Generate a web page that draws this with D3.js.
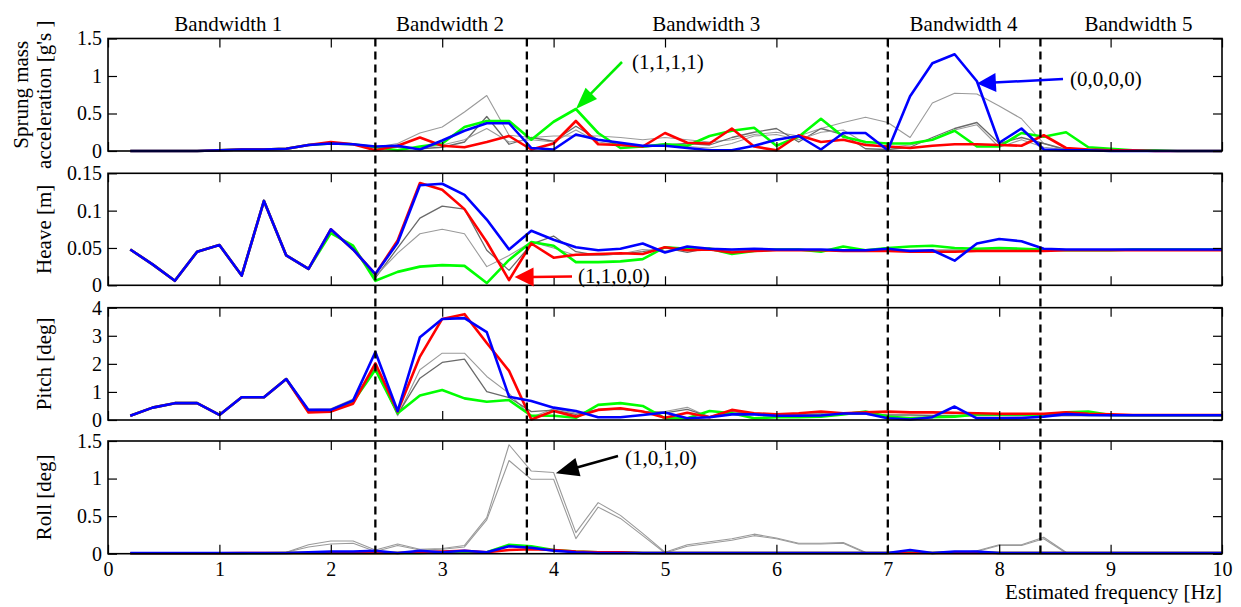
<!DOCTYPE html>
<html><head><meta charset="utf-8">
<script src="https://cdn.jsdelivr.net/npm/d3@7"></script>
<style>
body{margin:0;background:#fff}
svg{display:block}
text{font-family:"Liberation Serif","Times New Roman",serif;fill:#000}
</style>
</head><body>
<svg id="c" width="1241" height="607"></svg>
<script>
// ---------- DATA ----------
const freq = [0.2,0.4,0.6,0.8,1.0,1.2,1.4,1.6,1.8,2.0,2.2,2.4,2.6,2.8,3.0,3.2,3.4,3.6,3.8,4.0,4.2,4.4,4.6,4.8,5.0,5.2,5.4,5.6,5.8,6.0,6.2,6.4,6.6,6.8,7.0,7.2,7.4,7.6,7.8,8.0,8.2,8.4,8.6,8.8,9.0,9.2,9.4,9.6,9.8,10.0];

const xTicks = [0,1,2,3,4,5,6,7,8,9,10];
const xTickLabels = ["0","1","2","3","4","5","6","7","8","9","10"];

const bandEdges = [2.4, 3.76, 7.0, 8.37];
const bandLabels = ["Bandwidth 1","Bandwidth 2","Bandwidth 3","Bandwidth 4","Bandwidth 5"];
const bandLabelPos = [1.08, 3.07, 5.37, 7.68, 9.25];

// Panel 1: sprung mass acceleration
const accTicks = [0,0.5,1,1.5];
const accTickLabels = ["0","0.5","1","1.5"];
const accBlue  = [0,0,0,0,0.01,0.02,0.02,0.03,0.08,0.1, 0.09,0.06,0.07,0.02,0.14,0.27,0.37,0.37,0.04,0.02, 0.22,0.15,0.11,0.07,0.07,0.04,0.01,0.01,0.07,0.15, 0.2,0.02,0.24,0.24,0.01,0.73,1.17,1.29,0.93,0.11, 0.3,0.02,0.01,0.01,0,0,0,0,0,0];
const accRed   = [0,0,0,0,0.01,0.02,0.02,0.03,0.08,0.12, 0.09,0.01,0.07,0.18,0.07,0.05,0.12,0.2,0.02,0.1, 0.4,0.09,0.08,0.06,0.24,0.11,0.1,0.3,0.06,0.01, 0.21,0.12,0.15,0.08,0.06,0.04,0.07,0.09,0.09,0.08, 0.07,0.21,0.04,0.02,0.01,0.01,0,0,0,0];
const accGreen = [0,0,0,0,0.01,0.02,0.02,0.03,0.08,0.1, 0.09,0.05,0.01,0.06,0.1,0.32,0.4,0.4,0.15,0.39, 0.56,0.24,0.04,0.06,0.09,0.07,0.2,0.27,0.31,0.07, 0.19,0.43,0.19,0.12,0.1,0.1,0.15,0.27,0.06,0.06, 0.24,0.19,0.25,0.05,0.03,0.01,0.01,0,0,0];
const accGrayA = [0,0,0,0,0.01,0.02,0.02,0.03,0.08,0.1, 0.09,0.05,0.1,0.24,0.32,0.52,0.74,0.21,0.18,0.2, 0.2,0.2,0.18,0.15,0.18,0.15,0.12,0.15,0.22,0.25, 0.2,0.3,0.38,0.45,0.38,0.18,0.64,0.77,0.76,0.6, 0.43,0.1,0.01,0.01,0,0,0,0,0,0];
const accGrayB = [0,0,0,0,0.01,0.02,0.02,0.03,0.08,0.1, 0.09,0.05,0.05,0.03,0.05,0.12,0.46,0.09,0.18,0.13, 0.33,0.15,0.1,0.05,0.08,0.1,0.08,0.18,0.25,0.3, 0.12,0.3,0.22,0.03,0.02,0.05,0.18,0.3,0.38,0.1, 0.18,0.1,0.02,0.01,0,0,0,0,0,0];
const accGrayC = [0,0,0,0,0.01,0.02,0.02,0.03,0.08,0.1, 0.09,0.05,0.06,0.04,0.08,0.15,0.3,0.12,0.15,0.12, 0.28,0.12,0.08,0.06,0.1,0.06,0.04,0.1,0.2,0.22, 0.15,0.25,0.28,0.1,0.05,0.08,0.15,0.28,0.35,0.05, 0.15,0.05,0.02,0.01,0,0,0,0,0,0];

// Panel 2: heave
const heaveTicks = [0,0.05,0.1,0.15];
const heaveTickLabels = ["0","0.05","0.1","0.15"];
const heaveBlue  = [0.048,0.028,0.006,0.045,0.054,0.013,0.113,0.040,0.022,0.075, 0.048,0.015,0.057,0.134,0.136,0.121,0.088,0.048,0.073,0.061, 0.051,0.047,0.049,0.056,0.044,0.052,0.049,0.048,0.049,0.048, 0.048,0.048,0.047,0.047,0.049,0.046,0.047,0.033,0.056,0.062, 0.059,0.049,0.048,0.048,0.048,0.048,0.048,0.048,0.048,0.048];
const heaveRed   = [0.048,0.028,0.006,0.045,0.054,0.013,0.113,0.040,0.022,0.075, 0.048,0.015,0.060,0.137,0.128,0.102,0.058,0.007,0.056,0.037, 0.041,0.042,0.043,0.042,0.051,0.047,0.048,0.044,0.046,0.047, 0.047,0.047,0.046,0.046,0.046,0.045,0.045,0.045,0.046,0.046, 0.046,0.046,0.047,0.047,0.047,0.047,0.047,0.047,0.047,0.047];
const heaveGreen = [0.048,0.028,0.006,0.045,0.054,0.013,0.113,0.040,0.022,0.070, 0.053,0.006,0.018,0.025,0.027,0.026,0.003,0.034,0.058,0.053, 0.031,0.031,0.032,0.035,0.051,0.049,0.049,0.042,0.046,0.048, 0.048,0.045,0.052,0.047,0.050,0.052,0.053,0.050,0.049,0.050, 0.049,0.048,0.047,0.047,0.047,0.048,0.048,0.048,0.048,0.048];
const heaveGrayA = [0.048,0.028,0.006,0.045,0.054,0.013,0.113,0.040,0.022,0.075, 0.048,0.010,0.050,0.090,0.106,0.102,0.047,0.020,0.055,0.066, 0.045,0.040,0.042,0.045,0.050,0.044,0.050,0.046,0.047,0.047, 0.047,0.047,0.047,0.047,0.047,0.047,0.047,0.047,0.047,0.047, 0.047,0.047,0.047,0.047,0.047,0.047,0.047,0.047,0.047,0.047];
const heaveGrayB = [0.048,0.028,0.006,0.045,0.054,0.013,0.113,0.040,0.022,0.075, 0.048,0.012,0.043,0.069,0.075,0.069,0.025,0.040,0.058,0.050, 0.040,0.040,0.042,0.048,0.046,0.050,0.047,0.046,0.047,0.047, 0.047,0.047,0.047,0.047,0.047,0.047,0.047,0.047,0.047,0.047, 0.047,0.047,0.047,0.047,0.047,0.047,0.047,0.047,0.047,0.047];

// Panel 3: pitch
const pitchTicks = [0,1,2,3,4];
const pitchTickLabels = ["0","1","2","3","4"];
const pitchBlue  = [0.15,0.44,0.6,0.6,0.18,0.81,0.81,1.46,0.36,0.36, 0.69,2.42,0.32,2.95,3.6,3.63,3.13,0.83,0.68,0.44, 0.32,0.1,0.1,0.18,0.27,0.06,0.1,0.2,0.2,0.15, 0.15,0.16,0.23,0.23,0.06,0.02,0.1,0.48,0.06,0.06, 0.07,0.12,0.21,0.18,0.17,0.17,0.17,0.17,0.17,0.17];
const pitchRed   = [0.15,0.44,0.6,0.6,0.18,0.81,0.81,1.46,0.27,0.3, 0.58,2.02,0.3,2.26,3.6,3.77,2.74,1.75,0.02,0.32, 0.12,0.36,0.42,0.3,0.08,0.26,0.1,0.36,0.24,0.2, 0.24,0.3,0.24,0.27,0.3,0.27,0.27,0.26,0.24,0.22, 0.22,0.22,0.27,0.22,0.2,0.18,0.18,0.18,0.18,0.18];
const pitchGreen = [0.15,0.44,0.6,0.6,0.18,0.81,0.81,1.46,0.3,0.32, 0.65,1.79,0.24,0.87,1.07,0.77,0.65,0.71,0.15,0.15, 0.08,0.54,0.6,0.5,0.06,0.06,0.32,0.24,0.06,0.1, 0.1,0.12,0.2,0.3,0.12,0.06,0.1,0.12,0.2,0.2, 0.2,0.18,0.27,0.3,0.18,0.17,0.17,0.17,0.17,0.17];
const pitchGrayA = [0.15,0.44,0.6,0.6,0.18,0.81,0.81,1.46,0.38,0.4, 0.75,1.9,0.15,1.79,2.38,2.38,1.55,0.95,0.1,0.4, 0.25,0.35,0.38,0.3,0.3,0.45,0.1,0.25,0.25,0.2, 0.2,0.2,0.2,0.2,0.15,0.15,0.15,0.15,0.15,0.15, 0.15,0.15,0.15,0.15,0.15,0.15,0.15,0.15,0.15,0.15];
const pitchGrayB = [0.15,0.44,0.6,0.6,0.18,0.81,0.81,1.46,0.35,0.38, 0.72,1.85,0.2,1.49,2.05,2.17,1.01,0.8,0.3,0.35, 0.2,0.38,0.4,0.3,0.25,0.38,0.12,0.3,0.22,0.22, 0.2,0.22,0.2,0.2,0.18,0.18,0.16,0.16,0.16,0.16, 0.16,0.16,0.16,0.16,0.16,0.16,0.16,0.16,0.16,0.16];

// Panel 4: roll
const rollTicks = [0,0.5,1,1.5];
const rollTickLabels = ["0","0.5","1","1.5"];
const rollBlue  = [0.01,0.01,0.01,0.01,0.01,0.01,0.01,0.01,0.02,0.03, 0.03,0.04,0.01,0.04,0.02,0.04,0.02,0.1,0.08,0.04, 0.02,0.01,0.01,0.01,0.01,0.01,0.01,0.01,0.01,0.01, 0.01,0.01,0.01,0.01,0.01,0.05,0.01,0.03,0.03,0.01, 0.01,0.01,0.01,0.01,0.01,0.01,0.01,0.01,0.01,0.01];
const rollRed   = [0.005,0.005,0.005,0.005,0.005,0.01,0.01,0.01,0.01,0.01, 0.01,0.01,0.01,0.02,0.03,0.04,0.02,0.05,0.06,0.05, 0.03,0.02,0.02,0.01,0.01,0.01,0.01,0.01,0.01,0.01, 0.01,0.01,0.01,0.01,0.01,0.01,0.01,0.01,0.01,0.01, 0.01,0.01,0.01,0.01,0.01,0.01,0.01,0.01,0.01,0.01];
const rollGreen = [0.005,0.005,0.005,0.005,0.005,0.005,0.005,0.01,0.01,0.01, 0.01,0.01,0.01,0.01,0.02,0.02,0.02,0.12,0.1,0.05, 0.03,0.02,0.02,0.01,0.01,0.01,0.01,0.01,0.01,0.01, 0.01,0.01,0.01,0.01,0.01,0.02,0.01,0.02,0.02,0.01, 0.01,0.01,0.01,0.01,0.01,0.01,0.01,0.01,0.01,0.01];
const rollGrayA = [0,0,0,0,0,0,0.01,0.02,0.12,0.17, 0.17,0.05,0.13,0.06,0.07,0.11,0.48,1.45,1.1,1.08, 0.28,0.68,0.51,0.27,0.02,0.12,0.16,0.2,0.26,0.21, 0.14,0.14,0.15,0.02,0.01,0.01,0.01,0.01,0.04,0.12, 0.12,0.22,0.02,0.01,0.01,0.01,0.01,0.01,0.01,0.01];
const rollGrayB = [0,0,0,0,0,0,0.01,0.02,0.09,0.13, 0.14,0.03,0.11,0.05,0.06,0.09,0.45,1.24,0.99,0.99, 0.2,0.62,0.47,0.24,0.01,0.1,0.14,0.18,0.24,0.2, 0.13,0.13,0.14,0.01,0.01,0.01,0.01,0.01,0.03,0.11, 0.11,0.2,0.01,0.01,0.01,0.01,0.01,0.01,0.01,0.01];

const annotations = [
  {text:"(1,1,1,1)", color:"#00ee00", panel:0, tipX:4.2, tipV:0.56},
  {text:"(0,0,0,0)", color:"#0000ff", panel:0, tipX:7.8, tipV:0.9},
  {text:"(1,1,0,0)", color:"#ff0000", panel:1, tipX:3.65, tipV:0.011},
  {text:"(1,0,1,0)", color:"#000000", panel:3, tipX:4.02, tipV:1.07}
];

// ---------- LAYOUT ----------
const svg = d3.select("#c");
const x = d3.scaleLinear().domain([0,10]).range([108,1222]);
const FS = 21;

const grayStyles = {
  light:{color:"#9a9a9a", w:1.1},
  dark:{color:"#6a6a6a", w:1.3}
};
const panels = [
  {top:38.5, bottom:151, dom:[0,1.5], ticks:accTicks, labels:accTickLabels,
   grays:[[accGrayA,"light"],[accGrayB,"dark"],[accGrayC,"light"]],
   green:accGreen, red:accRed, blue:accBlue, ylab:["Sprung mass","acceleration [g's ]"]},
  {top:173.3, bottom:285.3, dom:[0,0.15], ticks:heaveTicks, labels:heaveTickLabels,
   grays:[[heaveGrayA,"dark"],[heaveGrayB,"light"]],
   green:heaveGreen, red:heaveRed, blue:heaveBlue, ylab:["Heave [m]"]},
  {top:307.7, bottom:420, dom:[0,4], ticks:pitchTicks, labels:pitchTickLabels,
   grays:[[pitchGrayA,"light"],[pitchGrayB,"dark"]],
   green:pitchGreen, red:pitchRed, blue:pitchBlue, ylab:["Pitch [deg]"]},
  {top:441, bottom:553.7, dom:[0,1.5], ticks:rollTicks, labels:rollTickLabels,
   grays:[[rollGrayA,"light"],[rollGrayB,"light"]],
   green:rollGreen, red:rollRed, blue:rollBlue, ylab:["Roll [deg]"]}
];

panels.forEach((p,pi)=>{
  p.y = d3.scaleLinear().domain(p.dom).range([p.bottom,p.top]);
  const g = svg.append("g");
  const line = d3.line().x((d,i)=>x(freq[i])).y(d=>p.y(d));
  p.grays.forEach(([arr,st])=>{
    g.append("path").attr("d",line(arr)).attr("fill","none")
      .attr("stroke",grayStyles[st].color).attr("stroke-width",grayStyles[st].w)
      .attr("stroke-linejoin","round");
  });
  [[p.green,"#00ff00"],[p.red,"#ff0000"],[p.blue,"#0000ff"]].forEach(([arr,c])=>{
    g.append("path").attr("d",line(arr)).attr("fill","none")
      .attr("stroke",c).attr("stroke-width",2.6).attr("stroke-linejoin","round");
  });

  // axes (ticks inside)
  const ax = (gen, tr, showLabels) => {
    const a = svg.append("g").attr("transform",tr).call(gen);
    a.select(".domain").remove();
    a.selectAll("line").attr("stroke","#000").attr("stroke-width",1.2);
    a.selectAll("text").style("font-family",'"Liberation Serif","Times New Roman",serif')
      .style("font-size","20px").attr("fill","#000");
    if(!showLabels) a.selectAll("text").remove();
    return a;
  };
  ax(d3.axisBottom(x).tickValues(xTicks).tickFormat((d,i)=>xTickLabels[i]).tickSize(-9).tickPadding(8),
     `translate(0,${p.bottom})`, pi===3);
  ax(d3.axisTop(x).tickValues(xTicks).tickSize(-9), `translate(0,${p.top})`, false);
  ax(d3.axisLeft(p.y).tickValues(p.ticks).tickFormat((d,i)=>p.labels[i]).tickSize(-9).tickPadding(6),
     `translate(108,0)`, true);
  ax(d3.axisRight(p.y).tickValues(p.ticks).tickSize(-9), `translate(1222,0)`, false);

  svg.append("rect").attr("x",108).attr("y",p.top).attr("width",1222-108).attr("height",p.bottom-p.top)
    .attr("fill","none").attr("stroke","#000").attr("stroke-width",1.6);

  // y labels
  const cy = (p.top+p.bottom)/2;
  const xs = p.ylab.length===2 ? [21,44] : [44];
  p.ylab.forEach((t,k)=>{
    svg.append("text").attr("transform",`translate(${xs[k]},${cy}) rotate(-90)`)
      .attr("text-anchor","middle").attr("dy","0.35em").style("font-size",FS+"px").text(t);
  });
});

// dashed band boundaries
bandEdges.forEach(b=>{
  svg.append("line").attr("x1",x(b)).attr("x2",x(b)).attr("y1",panels[0].top).attr("y2",panels[3].bottom)
    .attr("stroke","#000").attr("stroke-width",2.3).attr("stroke-dasharray","8,5");
});
bandLabels.forEach((t,i)=>{
  svg.append("text").attr("x",x(bandLabelPos[i])).attr("y",31).attr("text-anchor","middle")
    .style("font-size",FS+"px").text(t);
});

svg.append("text").attr("x",1222).attr("y",599).attr("text-anchor","end")
  .style("font-size",FS+"px").text("Estimated frequency [Hz]");

// annotations with arrows
function arrow(x1,y1,x2,y2,color,hl,hw){
  const ang = Math.atan2(y2-y1,x2-x1);
  const bx = x2 - hl*Math.cos(ang), by = y2 - hl*Math.sin(ang);
  svg.append("line").attr("x1",x1).attr("y1",y1).attr("x2",bx+2*Math.cos(ang)).attr("y2",by+2*Math.sin(ang))
    .attr("stroke",color).attr("stroke-width",2.5);
  const px = -Math.sin(ang)*hw/2, py = Math.cos(ang)*hw/2;
  svg.append("path").attr("d",`M${x2},${y2}L${bx+px},${by+py}L${bx-px},${by-py}Z`).attr("fill",color);
}
const annLayout = [
  {tx:632, ty:62, sx:622, sy:62, hl:22, hw:16},
  {tx:1070, ty:79, sx:1063, sy:79, hl:19, hw:19},
  {tx:578, ty:276, sx:572, sy:276.5, hl:19, hw:19},
  {tx:625, ty:458, sx:618, sy:456, hl:23, hw:19}
];
annotations.forEach((a,i)=>{
  const L = annLayout[i];
  const p = panels[a.panel];
  arrow(L.sx,L.sy,x(a.tipX),p.y(a.tipV),a.color,L.hl,L.hw);
  svg.append("text").attr("x",L.tx).attr("y",L.ty).attr("dy","0.35em").style("font-size",FS+"px").text(a.text);
});
</script>
</body></html>
